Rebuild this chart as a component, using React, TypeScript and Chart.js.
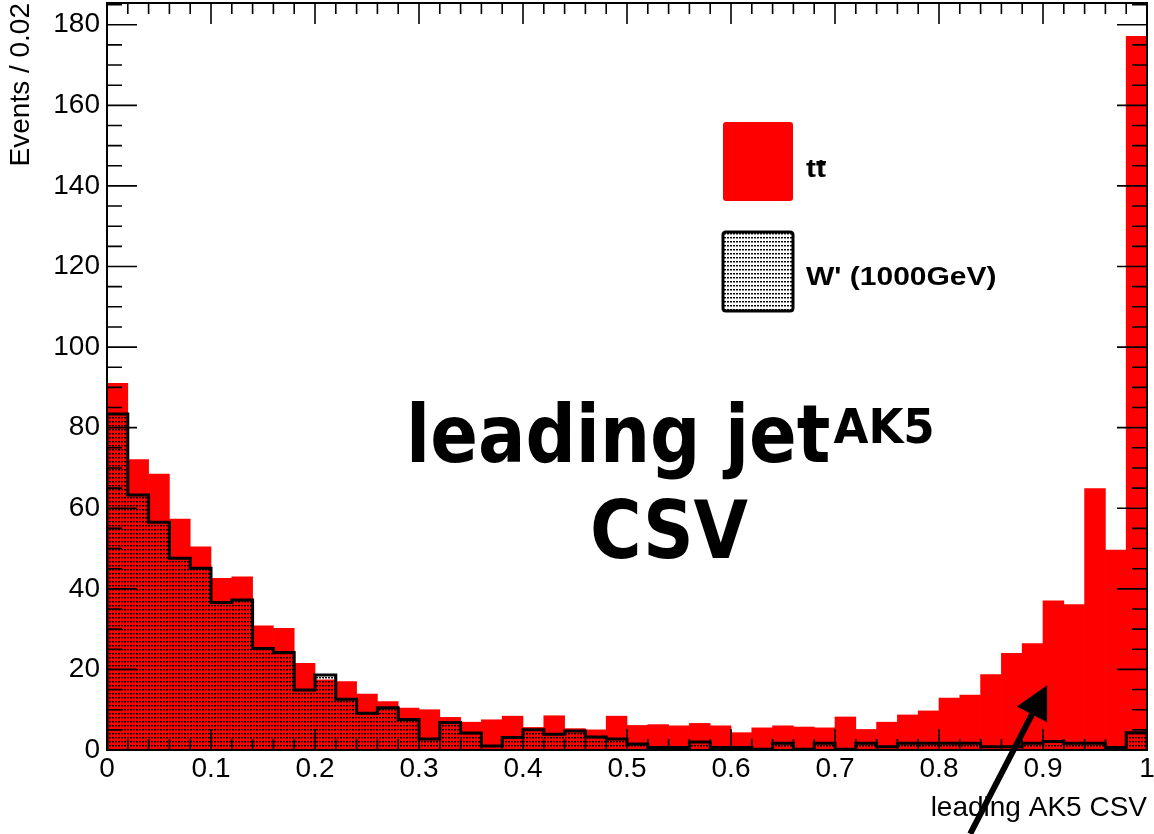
import React, { useEffect, useRef } from "react";
import { Chart, registerables } from "chart.js";

Chart.register(...registerables);

// Binning: 50 bins of width 0.02 covering [0, 1]
const BIN_WIDTH = 0.02;
const X_MIN = 0;
const X_MAX = 1;
const Y_MIN = 0;
const Y_MAX = 185.4;

// Events per bin for the tt̄ sample
const ttbarEvents = [
  91.0, 72.1, 68.5, 57.3, 50.4, 42.6, 43.0, 30.8, 30.2, 21.5,
  17.4, 17.0, 13.9, 12.0, 10.4, 10.0, 8.1, 6.9, 7.5, 8.4,
  5.6, 8.5, 5.3, 5.0, 8.4, 6.1, 6.3, 6.0, 6.6, 6.0,
  4.3, 5.5, 6.0, 5.7, 5.5, 8.2, 5.1, 6.9, 8.7, 9.7,
  12.9, 13.6, 18.7, 24.0, 26.4, 37.0, 36.1, 64.9, 49.6, 177.1,
];

// Events per bin for the W' (1000 GeV) sample
const wprimeEvents = [
  83.4, 63.3, 56.5, 47.6, 45.1, 36.6, 37.2, 25.2, 24.2, 14.9,
  18.6, 12.6, 9.1, 10.5, 7.6, 2.7, 6.8, 4.2, 1.0, 3.1,
  5.0, 3.9, 4.7, 3.2, 2.7, 1.5, 0.6, 0.6, 2.0, 0.6,
  0.6, 0.2, 1.7, 0.2, 1.7, 0.2, 1.7, 0.8, 1.7, 1.7,
  1.7, 1.7, 0.8, 0.8, 1.7, 2.1, 1.7, 1.7, 0.6, 4.3,
];

// Axis ticks
const X_LABEL_STEP = 0.1;
const X_MINOR_STEP = 0.02;
const Y_LABEL_STEP = 20;
const Y_MINOR_STEP = 5;

// Texts
const X_TITLE = "leading AK5 CSV";
const Y_TITLE = "Events / 0.02";
const TTBAR_LABEL = "tt";
const WPRIME_LABEL = "W' (1000GeV)";
const HEADLINE_MAIN = "leading jet";
const HEADLINE_SUP = "AK5";
const HEADLINE_SECOND = "CSV";

// Arrow annotation, in data coordinates (tail starts below the axis)
const ARROW_TAIL = { x: 0.83, y: -20.8 };
const ARROW_TIP = { x: 0.904, y: 16.1 };

// Styling / layout
const RED = "#ff0000";
const SANS = "'Liberation Sans', Arial, Helvetica, sans-serif";
const HEAVY = "'DejaVu Sans', Verdana, sans-serif";
const W = 1154;
const H = 834;
const AREA = { left: 107, right: 1147, top: 3, bottom: 750 };

const LEGEND = {
  boxX: 723,
  boxW: 70,
  boxH: 79,
  rowTops: [122, 232],
  textX: 806,
  baselines: [177, 285],
  font: `bold 25px ${SANS}`,
  stretch: 1.2,
};

const HEADLINE = {
  left: 406,
  baseline1: 462,
  supBaseline: 443,
  centerX: 669,
  baseline2: 558,
  font: `bold 80px ${HEAVY}`,
  supFont: `bold 48px ${HEAVY}`,
  stretch: 0.88,
  supStretch: 0.94,
};

function makeDotPattern(ctx: CanvasRenderingContext2D) {
  const tile = document.createElement("canvas");
  tile.width = 3;
  tile.height = 4;
  const t = tile.getContext("2d")!;
  t.fillStyle = "#000";
  t.fillRect(1, 1, 2, 1);
  t.fillStyle = "rgba(0,0,0,0.45)";
  t.fillRect(1, 2, 2, 1);
  return ctx.createPattern(tile, "repeat")!;
}

function drawStretched(
  ctx: CanvasRenderingContext2D,
  text: string,
  x: number,
  y: number,
  font: string,
  sx: number,
  align: "left" | "center" | "right" = "left"
) {
  ctx.save();
  ctx.font = font;
  const w = ctx.measureText(text).width * sx;
  let left = x;
  if (align === "center") left = x - w / 2;
  else if (align === "right") left = x - w;
  ctx.translate(left, y);
  ctx.scale(sx, 1);
  ctx.textAlign = "left";
  ctx.textBaseline = "alphabetic";
  ctx.fillStyle = "#000";
  ctx.fillText(text, 0, 0);
  ctx.restore();
  return w;
}

function roundRect(ctx: CanvasRenderingContext2D, x: number, y: number, w: number, h: number, r: number) {
  ctx.beginPath();
  ctx.moveTo(x + r, y);
  ctx.lineTo(x + w - r, y);
  ctx.quadraticCurveTo(x + w, y, x + w, y + r);
  ctx.lineTo(x + w, y + h - r);
  ctx.quadraticCurveTo(x + w, y + h, x + w - r, y + h);
  ctx.lineTo(x + r, y + h);
  ctx.quadraticCurveTo(x, y + h, x, y + h - r);
  ctx.lineTo(x, y + r);
  ctx.quadraticCurveTo(x, y, x + r, y);
  ctx.closePath();
}

export default function App() {
  const canvasRef = useRef<HTMLCanvasElement>(null);

  useEffect(() => {
    const canvas = canvasRef.current;
    if (!canvas) return;
    const ctx0 = canvas.getContext("2d")!;
    const dots = makeDotPattern(ctx0);

    const ttbarBars = ttbarEvents.map((v, i) => ({ x: X_MIN + (i + 0.5) * BIN_WIDTH, y: v }));
    const last = wprimeEvents.length - 1;
    const wprimeSteps = [
      { x: X_MIN, y: 0 },
      ...wprimeEvents.map((v, i) => ({ x: X_MIN + i * BIN_WIDTH, y: v })),
      { x: X_MAX, y: wprimeEvents[last] },
      { x: X_MAX, y: 0 },
    ];

    // Inside-pointing ticks on all four sides plus the frame
    const frameAndTicks = {
      id: "frameAndTicks",
      afterDatasetsDraw(chart: any) {
        const { ctx, chartArea: a, scales } = chart;
        const xs = scales.x;
        const ys = scales.y;
        ctx.save();
        ctx.strokeStyle = "#000";
        ctx.lineWidth = 1.6;
        ctx.beginPath();
        const nx = Math.round((X_MAX - X_MIN) / X_MINOR_STEP);
        const perMajorX = Math.round(X_LABEL_STEP / X_MINOR_STEP);
        for (let k = 0; k <= nx; k++) {
          const px = xs.getPixelForValue(X_MIN + k * X_MINOR_STEP);
          const len = k % perMajorX === 0 ? 21 : 11;
          ctx.moveTo(px, a.bottom);
          ctx.lineTo(px, a.bottom - len);
          ctx.moveTo(px, a.top);
          ctx.lineTo(px, a.top + len);
        }
        const perMajorY = Math.round(Y_LABEL_STEP / Y_MINOR_STEP);
        for (let k = 0; Y_MIN + k * Y_MINOR_STEP <= Y_MAX; k++) {
          const py = ys.getPixelForValue(Y_MIN + k * Y_MINOR_STEP);
          const len = k % perMajorY === 0 ? 30 : 15;
          ctx.moveTo(a.left, py);
          ctx.lineTo(a.left + len, py);
          ctx.moveTo(a.right, py);
          ctx.lineTo(a.right - len, py);
        }
        ctx.stroke();
        ctx.lineWidth = 2;
        ctx.strokeRect(a.left, a.top, a.right - a.left, a.bottom - a.top);
        ctx.restore();
      },
    };

    // Legend, headline and arrow
    const annotations = {
      id: "annotations",
      afterDraw(chart: any) {
        const { ctx, scales } = chart;
        ctx.save();

        // legend: tt̄ box
        roundRect(ctx, LEGEND.boxX, LEGEND.rowTops[0], LEGEND.boxW, LEGEND.boxH, 3);
        ctx.fillStyle = RED;
        ctx.fill();
        // legend: W' box
        roundRect(ctx, LEGEND.boxX, LEGEND.rowTops[1], LEGEND.boxW, LEGEND.boxH, 3);
        ctx.fillStyle = "#fff";
        ctx.fill();
        ctx.fillStyle = dots;
        ctx.fill();
        ctx.lineWidth = 3;
        ctx.strokeStyle = "#000";
        ctx.stroke();

        // legend labels
        const wt = drawStretched(ctx, TTBAR_LABEL, LEGEND.textX, LEGEND.baselines[0], LEGEND.font, LEGEND.stretch);
        ctx.font = LEGEND.font;
        const w1 = ctx.measureText(TTBAR_LABEL[0]).width * LEGEND.stretch;
        ctx.fillStyle = "#000";
        ctx.fillRect(LEGEND.textX + w1 + 0.5, LEGEND.baselines[0] - 16, wt - w1 - 0.5, 2);
        drawStretched(ctx, WPRIME_LABEL, LEGEND.textX, LEGEND.baselines[1], LEGEND.font, LEGEND.stretch);

        // headline
        const wMain = drawStretched(ctx, HEADLINE_MAIN, HEADLINE.left, HEADLINE.baseline1, HEADLINE.font, HEADLINE.stretch);
        drawStretched(ctx, HEADLINE_SUP, HEADLINE.left + wMain + 3, HEADLINE.supBaseline, HEADLINE.supFont, HEADLINE.supStretch);
        drawStretched(ctx, HEADLINE_SECOND, HEADLINE.centerX, HEADLINE.baseline2, HEADLINE.font, HEADLINE.stretch, "center");

        // arrow
        const tx = scales.x.getPixelForValue(ARROW_TAIL.x);
        const ty = scales.y.getPixelForValue(ARROW_TAIL.y);
        const hx = scales.x.getPixelForValue(ARROW_TIP.x);
        const hy = scales.y.getPixelForValue(ARROW_TIP.y);
        const dx = hx - tx;
        const dy = hy - ty;
        const len = Math.hypot(dx, dy);
        const ux = dx / len;
        const uy = dy / len;
        const headLen = 33;
        const headHalf = 17;
        const bx = hx - ux * headLen;
        const by = hy - uy * headLen;
        ctx.strokeStyle = "#000";
        ctx.lineWidth = 6;
        ctx.lineCap = "butt";
        ctx.beginPath();
        ctx.moveTo(tx, ty);
        ctx.lineTo(bx + ux * 4, by + uy * 4);
        ctx.stroke();
        ctx.fillStyle = "#000";
        ctx.beginPath();
        ctx.moveTo(hx, hy);
        ctx.lineTo(bx - uy * headHalf, by + ux * headHalf);
        ctx.lineTo(bx + uy * headHalf, by - ux * headHalf);
        ctx.closePath();
        ctx.fill();

        ctx.restore();
      },
    };

    const fixBox = (size: { width?: number; height?: number }) => (scale: any) => {
      if (size.width !== undefined) scale.width = size.width;
      if (size.height !== undefined) scale.height = size.height;
      scale.paddingLeft = 0;
      scale.paddingRight = 0;
      scale.paddingTop = 0;
      scale.paddingBottom = 0;
    };

    const chart = new Chart(canvas, {
      type: "bar",
      data: {
        datasets: [
          {
            type: "line",
            label: WPRIME_LABEL,
            data: wprimeSteps,
            stepped: "before",
            fill: "origin",
            backgroundColor: dots,
            borderColor: "#000",
            borderWidth: 3,
            pointRadius: 0,
            order: 0,
          } as any,
          {
            type: "bar",
            label: TTBAR_LABEL,
            data: ttbarBars,
            backgroundColor: RED,
            borderWidth: 0,
            barPercentage: 1,
            categoryPercentage: 1,
            grouped: false,
            order: 1,
          } as any,
        ],
      },
      options: {
        animation: false,
        responsive: false,
        devicePixelRatio: 1,
        layout: { padding: { left: 0, right: W - AREA.right, top: AREA.top, bottom: 0 } },
        plugins: { legend: { display: false }, tooltip: { enabled: false } },
        scales: {
          x: {
            type: "linear",
            min: X_MIN,
            max: X_MAX,
            offset: false,
            grid: { display: false, drawTicks: false, offset: false },
            border: { display: false },
            ticks: {
              stepSize: X_LABEL_STEP,
              autoSkip: false,
              maxRotation: 0,
              includeBounds: false,
              padding: 2,
              color: "#000",
              font: { family: SANS, size: 28 },
              callback: (v: number) => String(Math.round(v * 100) / 100),
            },
            title: {
              display: true,
              text: X_TITLE,
              align: "end",
              color: "#000",
              font: { family: SANS, size: 28 },
              padding: { top: 0, bottom: 9 },
            },
            afterFit: fixBox({ height: H - AREA.bottom }),
          },
          y: {
            type: "linear",
            min: Y_MIN,
            max: Y_MAX,
            grid: { display: false, drawTicks: false },
            border: { display: false },
            ticks: {
              stepSize: Y_LABEL_STEP,
              includeBounds: false,
              padding: 7,
              color: "#000",
              font: { family: SANS, size: 28 },
            },
            title: {
              display: true,
              text: Y_TITLE,
              align: "end",
              color: "#000",
              font: { family: SANS, size: 28 },
              padding: { top: 4, bottom: 0 },
            },
            afterFit: fixBox({ width: AREA.left }),
          },
        },
      },
      plugins: [frameAndTicks, annotations],
    } as any);

    return () => chart.destroy();
  }, []);

  return (
    <div style={{ position: "fixed", left: 0, top: 0, width: W, height: H, background: "#fff" }}>
      <canvas ref={canvasRef} width={W} height={H} style={{ display: "block" }} />
    </div>
  );
}
